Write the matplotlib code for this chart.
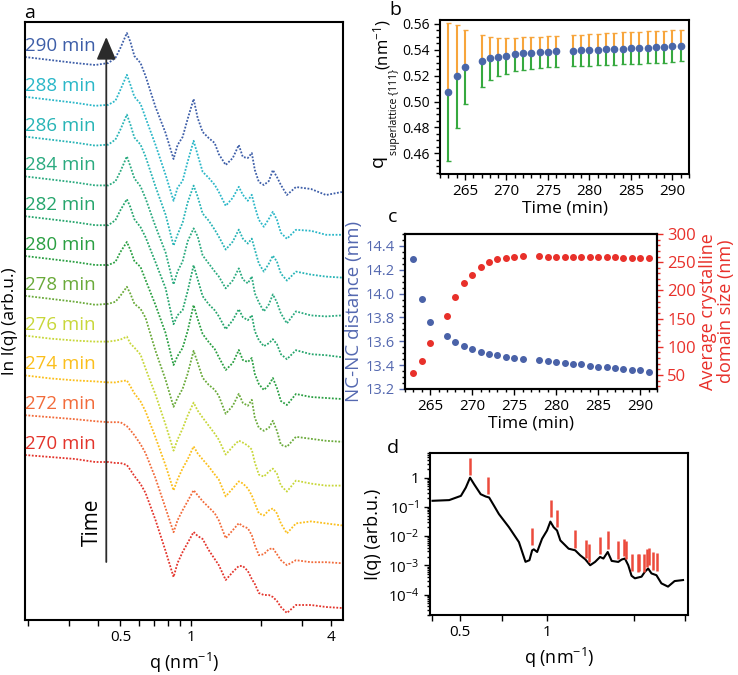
import matplotlib
matplotlib.use("Agg")
import matplotlib.pyplot as plt
from matplotlib.ticker import MultipleLocator, NullLocator, FixedLocator

plt.rcParams['font.family'] = ['Open Sans', 'DejaVu Sans']
plt.rcParams['mathtext.default'] = 'regular'
plt.rcParams['axes.linewidth'] = 1.5

# ---------------- panel a: SAXS profiles (ln I, arb.u., each relative to its low-q plateau)
q_saxs = [0.195, 0.25, 0.32, 0.39, 0.444, 0.476, 0.5, 0.533, 0.552, 0.574, 0.61, 0.641,
          0.707, 0.781, 0.845, 0.879, 0.924, 0.971, 1.03, 1.072, 1.126, 1.195, 1.268, 1.32,
          1.414, 1.516, 1.609, 1.674, 1.759, 1.829, 1.885, 1.961, 2.06, 2.165, 2.252, 2.344,
          2.438, 2.587, 2.828, 3.281, 3.807, 4.45]

times = [270, 272, 274, 276, 278, 280, 282, 284, 286, 288, 290]

lnI_270 = [0, -2, -4, -7, -7, -8, -8, -10, -15, -21, -29, -38, -65, -96, -122, -108, -97, -88, -77, -81, -84,
           -95, -104, -110, -125, -117, -111, -111, -116, -124, -129, -138, -140, -140, -142, -146, -152,
           -158, -150, -150, -152, -153]
lnI_272 = [0, -2, -4, -6, -7, -7, -7, -11, -15, -20, -29, -38, -63, -93, -117, -105, -95, -86, -75, -80, -86,
           -92, -98, -105, -123, -115, -108, -111, -113, -120, -130, -140, -139, -134, -133, -139, -145,
           -150, -145, -147, -147, -148]
lnI_274 = [0, -3, -5, -6, -7, -7, -6, -5, -11, -18, -26, -36, -62, -90, -115, -104, -93, -84, -71, -78, -84,
           -91, -99, -104, -121, -113, -106, -108, -113, -120, -128, -138, -140, -135, -133, -138, -148,
           -158, -148, -146, -148, -150]
lnI_276 = [0, -3, -5, -6, -6, -5, -4, -1, -8, -12, -19, -33, -59, -89, -115, -104, -93, -80, -67, -75, -82,
           -90, -98, -104, -119, -111, -105, -107, -110, -114, -127, -139, -141, -136, -133, -138, -150,
           -156, -145, -148, -150, -150]
lnI_278 = [0, -3, -6, -9, -8, -6, 0, 9, 2, -8, -13, -22, -55, -84, -111, -102, -93, -78, -55, -67, -82,
           -89, -94, -100, -118, -110, -98, -107, -110, -104, -122, -132, -135, -132, -125, -135, -149,
           -151, -141, -143, -145, -146]
lnI_280 = [0, -3, -6, -9, -9, -6, 4, 14, 6, -5, -11, -24, -49, -77, -109, -100, -92, -75, -49, -63, -78,
           -86, -93, -101, -114, -107, -94, -104, -106, -102, -118, -128, -134, -129, -122, -132, -145,
           -149, -138, -141, -142, -143]
lnI_282 = [0, -3, -6, -9, -9, -4, 6, 17, 9, -3, -11, -21, -46, -72, -108, -99, -94, -75, -49, -63, -80,
           -88, -94, -100, -113, -104, -93, -101, -104, -99, -115, -124, -130, -127, -123, -128, -138,
           -143, -134, -138, -139, -141]
lnI_284 = [0, -3, -6, -9, -9, -5, 5, 20, 10, -2, -10, -22, -50, -76, -108, -95, -85, -65, -52, -60, -79,
           -87, -95, -100, -112, -104, -92, -103, -107, -100, -117, -126, -135, -128, -118, -126, -137,
           -147, -135, -139, -140, -139]
lnI_286 = [0, -3, -6, -9, -8, -3, 7, 22, 12, -1, -8, -20, -50, -78, -109, -98, -86, -66, -49, -60, -77,
           -84, -93, -100, -113, -105, -93, -102, -107, -102, -113, -127, -135, -127, -119, -125, -137,
           -144, -135, -138, -140, -141]
lnI_288 = [0, -3, -6, -9, -8, -4, 7, 22, 12, 0, -7, -21, -48, -78, -104, -91, -84, -65, -44, -58, -75,
           -81, -88, -95, -109, -101, -90, -98, -104, -98, -110, -123, -130, -122, -115, -123, -136,
           -142, -133, -134, -138, -138]
lnI_290 = [0, -3, -6, -8, -6, -1, 9, 24, 15, 1, -6, -19, -50, -76, -102, -88, -80, -62, -42, -61, -75,
           -81, -86, -97, -108, -101, -88, -100, -101, -96, -113, -125, -128, -124, -113, -120, -128,
           -138, -130, -132, -138, -135]

profiles = [lnI_270, lnI_272, lnI_274, lnI_276, lnI_278, lnI_280,
            lnI_282, lnI_284, lnI_286, lnI_288, lnI_290]
colors_a = ['#e3342b', '#f26b3a', '#fbbf1c', '#c8d73a', '#6aaa3a', '#2a9f42',
            '#25a56c', '#2aaa7f', '#27b4b6', '#2ab7c8', '#3d5ea8']

# ---------------- panel b: superlattice {111} peak position
t_b = [263, 264, 265, 267, 268, 269, 270, 271, 272, 273, 274, 275, 276,
       278, 279, 280, 281, 282, 283, 284, 285, 286, 287, 288, 289, 290, 291]
q111 = [0.5073, 0.5194, 0.5267, 0.5316, 0.5334, 0.5347, 0.5355, 0.5365, 0.5373, 0.5378, 0.5380,
        0.5386, 0.5391, 0.5393, 0.5396, 0.5398, 0.5401, 0.5404, 0.5406, 0.5409, 0.5411, 0.5414,
        0.5417, 0.5419, 0.5422, 0.5427, 0.5432]
q111_upper = [0.5603, 0.5590, 0.5551, 0.5512, 0.5497, 0.5491, 0.5491, 0.5494, 0.5497, 0.5502,
              0.5502, 0.5504, 0.5510, 0.5512, 0.5517, 0.5520, 0.5525, 0.5528, 0.5533, 0.5535,
              0.5538, 0.5541, 0.5543, 0.5546, 0.5548, 0.5551, 0.5556]
q111_lower = [0.4543, 0.4799, 0.4982, 0.5112, 0.5168, 0.5197, 0.5215, 0.5233, 0.5246, 0.5254,
              0.5259, 0.5264, 0.5267, 0.5272, 0.5274, 0.5277, 0.5280, 0.5282, 0.5285, 0.5287,
              0.5290, 0.5293, 0.5295, 0.5298, 0.5300, 0.5303, 0.5311]

# ---------------- panel c: NC-NC distance and crystalline domain size
nc_dist = [14.292, 13.956, 13.761, 13.647, 13.597, 13.561, 13.533, 13.514, 13.497, 13.483, 13.472,
           13.458, 13.450, 13.444, 13.436, 13.428, 13.417, 13.411, 13.406, 13.394, 13.386, 13.381,
           13.378, 13.369, 13.361, 13.356, 13.344]
domain = [53, 75, 106, 154, 188, 213, 228, 241, 251, 256, 258, 260, 261, 261, 260, 260, 260, 260,
          260, 259, 259, 259, 259, 258, 258, 258, 258]

# ---------------- panel d: single profile with indexed reflections
q_d = [0.401, 0.458, 0.503, 0.523, 0.541, 0.559, 0.589, 0.613, 0.630, 0.655, 0.681, 0.738, 0.799,
       0.842, 0.869, 0.888, 0.900, 0.924, 0.961, 1.0, 1.027, 1.054, 1.083, 1.112, 1.188, 1.252,
       1.303, 1.356, 1.411, 1.467, 1.527, 1.568, 1.623, 1.675, 1.766, 1.814, 1.862, 1.912, 1.963,
       2.016, 2.126, 2.182, 2.241, 2.301, 2.394, 2.491, 2.626, 2.768, 2.960]
I_d = [0.162, 0.171, 0.239, 0.458, 1.0, 0.594, 0.272, 0.227, 0.210, 0.110, 0.057, 0.0202, 0.00626,
       0.00132, 0.0015, 0.00327, 0.00353, 0.00287, 0.00813, 0.0156, 0.0314, 0.0202, 0.0156, 0.00713,
       0.00372, 0.00327, 0.00221, 0.00162, 0.00101, 0.00131, 0.00194, 0.00171, 0.00287, 0.00142,
       0.00131, 0.00158, 0.00171, 0.00101, 0.00044, 0.00036, 0.00041, 0.0006, 0.00078, 0.00053,
       0.00046, 0.000242, 0.000187, 0.00029, 0.000314]
refl_q = [0.541, 0.626, 0.888, 1.035, 1.083, 1.252, 1.363, 1.399, 1.527, 1.623, 1.766, 1.848,
          1.877, 1.974, 2.070, 2.087, 2.165, 2.229, 2.253, 2.338, 2.400]
refl_I = [1.2, 0.272, 0.00483, 0.044, 0.0202, 0.00402, 0.0018, 0.00131, 0.00239, 0.00372, 0.00171,
          0.00205, 0.00171, 0.00063, 0.0006, 0.00063, 0.00059, 0.00091, 0.00101, 0.0007, 0.00065]

W, H = 738, 675
fig = plt.figure(figsize=(W / 100, H / 100), dpi=100)


def box(l, t, r, b):
    return [l / W, 1 - b / H, (r - l) / W, (b - t) / H]


# ---- a
ax = fig.add_axes(box(25, 22, 343, 620))
step = 39.8
for i, (t, prof, c) in enumerate(zip(times, profiles, colors_a)):
    off = i * step
    ax.plot(q_saxs, [v + off for v in prof], color=c, lw=1.3, ls=(0, (1, 0.9)))
    ax.text(0.39, off + 11, "%d min" % t, color=c, fontsize=13.5, ha='right', va='center')
ax.set_xscale('log')
ax.set_xlim(0.195, 4.5)
ax.set_ylim(-165, 433)
ax.set_yticks([])
ax.xaxis.set_minor_locator(NullLocator())
ax.set_xticks([0.2, 0.3, 0.4, 0.5, 0.6, 0.7, 0.8, 0.9, 1, 2, 3, 4])
ax.set_xticklabels(['', '', '', '0.5', '', '', '', '', '1', '', '', '4'])
ax.tick_params(axis='x', length=4, width=1, labelsize=11)
ax.set_xlabel('q (nm$^{-1}$)', fontsize=13, labelpad=4)
ax.set_ylabel('ln I(q) (arb.u.)', fontsize=12.5, labelpad=5)
ax.annotate('', xy=(0.435, 418), xytext=(0.435, -107),
            arrowprops=dict(arrowstyle='-|>,head_length=0.7,head_width=0.3', color='#2b2b2b',
                            lw=1.3, mutation_scale=20, shrinkA=0, shrinkB=0))
ax.text(0.379, -67, 'Time', rotation=90, ha='center', va='center', fontsize=15)

# ---- b
ax = fig.add_axes(box(440, 20, 689, 174))
up = [u - v for u, v in zip(q111_upper, q111)]
lo = [v - l for v, l in zip(q111, q111_lower)]
zero = [0] * len(q111)
ax.errorbar(t_b, q111, yerr=[zero, up], fmt='none', ecolor='#f7a53c', elinewidth=1.5, capsize=1.8)
ax.errorbar(t_b, q111, yerr=[lo, zero], fmt='none', ecolor='#36a93f', elinewidth=1.5, capsize=1.8)
ax.plot(t_b, q111, 'o', color='#4a67a8', ms=4.5, zorder=5)
ax.set_xlim(262, 292)
ax.set_ylim(0.444, 0.563)
ax.xaxis.set_major_locator(FixedLocator([265, 270, 275, 280, 285, 290]))
ax.xaxis.set_minor_locator(MultipleLocator(1))
ax.yaxis.set_major_locator(MultipleLocator(0.02))
ax.yaxis.set_minor_locator(MultipleLocator(0.005))
ax.yaxis.set_major_formatter(matplotlib.ticker.FormatStrFormatter('%.2f'))
ax.tick_params(which='both', width=1)
ax.tick_params(which='major', length=4)
ax.tick_params(which='minor', length=3)
ax.tick_params(axis='y', labelsize=10)
ax.tick_params(axis='x', labelsize=11)
ax.set_xlabel('Time (min)', fontsize=12.5, labelpad=1)
# y label built from pieces: large q, small subscript, unit
fig.text(378 / W, 1 - 161 / H, 'q', rotation=90, fontsize=14, ha='center', va='center')
fig.text(394 / W, 1 - 112 / H, 'superlattice {111}', rotation=90, fontsize=7.5,
         ha='center', va='center')
fig.text(382 / W, 1 - 45 / H, '(nm$^{-1}$)', rotation=90, fontsize=12, ha='center', va='center')

# ---- c
ax = fig.add_axes(box(405, 234, 657, 389))
blue_c, red_c = '#4a62a8', '#e8302a'
ax.plot(t_b, nc_dist, 'o', color=blue_c, ms=4)
ax.set_xlim(262, 292)
ax.set_ylim(13.2, 14.5)
ax.xaxis.set_major_locator(FixedLocator([265, 270, 275, 280, 285, 290]))
ax.xaxis.set_minor_locator(MultipleLocator(1))
ax.yaxis.set_major_locator(MultipleLocator(0.2))
ax.yaxis.set_minor_locator(MultipleLocator(0.05))
ax.tick_params(which='both', width=1)
ax.tick_params(which='major', length=4)
ax.tick_params(which='minor', length=2.5)
ax.tick_params(axis='y', labelsize=10.5, colors='#5468b0')
ax.tick_params(axis='x', labelsize=11)
ax.set_xlabel('Time (min)', fontsize=12.5, labelpad=1)
ax.set_ylabel('NC-NC distance (nm)', fontsize=13.5, color='#5468b0', labelpad=2)
ax2 = ax.twinx()
ax2.plot(t_b, domain, 'o', color=red_c, ms=4)
ax2.set_ylim(25, 300)
ax2.yaxis.set_major_locator(MultipleLocator(50))
ax2.yaxis.set_minor_locator(MultipleLocator(10))
ax2.tick_params(which='both', width=1, colors=red_c)
ax2.tick_params(which='major', length=4, labelsize=12)
ax2.tick_params(which='minor', length=2.5)
ax2.set_ylabel('Average crystalline\ndomain size (nm)', fontsize=13, color=red_c,
               linespacing=1.0, labelpad=2)

# ---- d
ax = fig.add_axes(box(430, 453, 688, 615))
ax.plot(q_d, I_d, color='black', lw=1.5)
ax.vlines(refl_q, refl_I, [v * 4 for v in refl_I], color='#ec4a3c', lw=1.8)
ax.set_xscale('log')
ax.set_yscale('log')
ax.set_xlim(0.393, 3.08)
ax.set_ylim(2e-5, 7)
ax.xaxis.set_minor_locator(NullLocator())
ax.set_xticks([0.4, 0.5, 0.7, 1, 2, 3])
ax.set_xticklabels(['', '0.5', '', '1', '', ''])
ax.set_yticks([1e-4, 1e-3, 1e-2, 1e-1, 1])
ax.set_yticklabels(['10$^{-4}$', '10$^{-3}$', '10$^{-2}$', '10$^{-1}$', '1'])
ax.tick_params(which='both', width=1)
ax.tick_params(which='major', length=4, labelsize=11)
ax.tick_params(which='minor', length=2)
ax.set_xlabel('q (nm$^{-1}$)', fontsize=13, labelpad=4)
ax.set_ylabel('I(q) (arb.u.)', fontsize=13, labelpad=4)

# panel letters
for letter, (px, py) in zip('abcd', [(30, 13), (395, 10), (393, 217), (393, 448)]):
    fig.text(px / W, 1 - py / H, letter, fontsize=14, ha='center', va='center')

fig.savefig('out.png', dpi=100)
